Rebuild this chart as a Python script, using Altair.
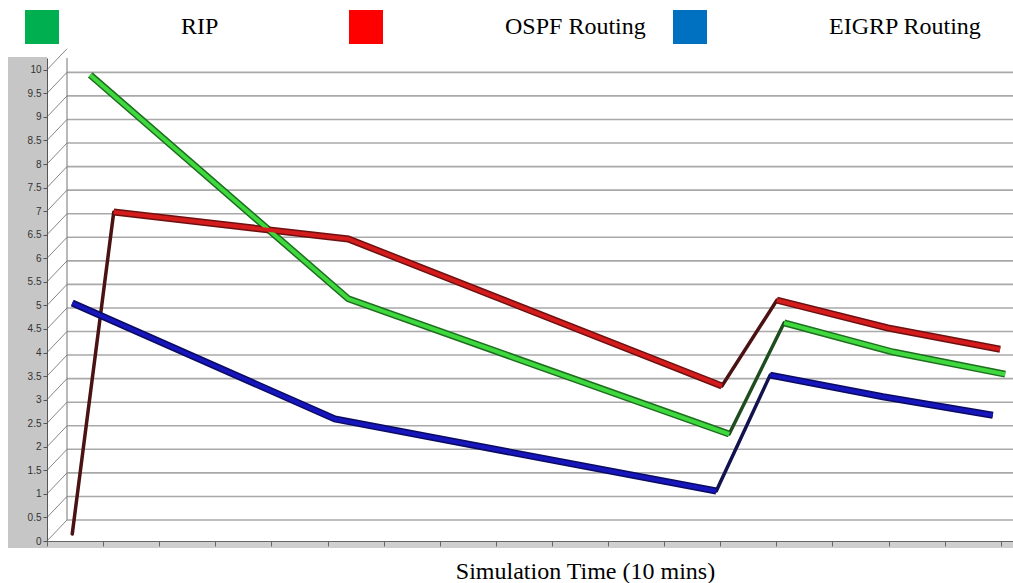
import altair as alt
import pandas as pd

# Series names (as shown in the legend)
series_names = ["RIP", "OSPF Routing", "EIGRP Routing"]

# Time positions (in axis tick steps) and values for each protocol
rip_t = [0.77, 5.37, 12.16, 13.14, 15.08, 17.08]
rip_v = [9.89, 5.14, 2.27, 4.63, 4.01, 3.54]

ospf_t = [0.45, 1.19, 5.37, 12.03, 13.01, 14.99, 16.99]
ospf_v = [0.15, 6.98, 6.41, 3.29, 5.11, 4.52, 4.07]

eigrp_t = [0.45, 5.13, 11.93, 12.89, 14.90, 16.86]
eigrp_v = [5.05, 2.59, 1.06, 3.52, 3.06, 2.67]

# Axis ticks
y_ticks = [i * 0.5 for i in range(21)]
x_ticks = list(range(18))

# Colours
legend_colors = ["#00b050", "#ff0000", "#0070c0"]
face_colors = ["#3fd83f", "#d41c1c", "#1616bc"]
edge_colors = ["#1d6e1d", "#6e1010", "#0a0a62"]
rise_colors = ["#1f4d1f", "#4a1212", "#12124e"]

W, H = 966, 483
DEPTH = 21  # vertical offset of the back wall
DEPTH_X = 20

# Split each series into runs of falling / rising segments so the
# ribbon faces and the steep edges can be styled separately.
rows = []
for name, ts, vs in [("RIP", rip_t, rip_v),
                     ("OSPF Routing", ospf_t, ospf_v),
                     ("EIGRP Routing", eigrp_t, eigrp_v)]:
    run = 0
    prev = None
    for i in range(len(ts) - 1):
        kind = "rise" if vs[i + 1] > vs[i] else "fall"
        if kind != prev:
            run += 1
            prev = kind
        for j in (i, i + 1):
            rows.append(dict(series=name, t=ts[j], v=vs[j], kind=kind,
                             run=f"{name}-{run}", idx=j))
lines = pd.DataFrame(rows).drop_duplicates(subset=["run", "idx"])
falls = lines[lines["kind"] == "fall"]
rises = lines[lines["kind"] == "rise"]

x_scale = alt.Scale(domain=[0, (1013 - 47) / 56.1], nice=False, zero=False)
y_scale = alt.Scale(domain=[0, 10.25], nice=False)

x_axis = alt.Axis(values=x_ticks, labels=False, grid=False,
                  tickSize=5, tickColor="#666", domainColor="#666",
                  title="Simulation Time (10 mins)",
                  titleFont="Liberation Serif", titleFontSize=24,
                  titleFontWeight="normal", titleColor="#000",
                  titleX=538, titleY=37, titleAlign="center",
                  titleBaseline="alphabetic", zindex=1)
y_axis = alt.Axis(values=y_ticks, format=".1~f", grid=False,
                  labelOverlap=False, labelFlush=False,
                  tickSize=4, tickColor="#555", domainColor="#555",
                  labelFont="Liberation Sans", labelFontSize=10,
                  labelColor="#333", labelPadding=2, title=None, zindex=1)

x_enc = alt.X("t:Q", scale=x_scale, axis=x_axis)
y_enc = alt.Y("v:Q", scale=y_scale, axis=y_axis)

ticks_df = pd.DataFrame({"v": y_ticks})
grid_df = pd.DataFrame({"v": y_ticks[:-1]})
one = pd.DataFrame({"k": [0]})

# Grey side panel and floor strip
side = alt.Chart(one).mark_rect(color="#c6c6c6").encode(
    x=alt.value(-39), x2=alt.value(0), y=alt.value(-1), y2=alt.value(H + 7))
floor = alt.Chart(one).mark_rect(color="#cfcfcf").encode(
    x=alt.value(0), x2=alt.value(W), y=alt.value(H), y2=alt.value(H + 7))

# Perspective lines from the front axis ticks to the back wall
slants = alt.Chart(ticks_df).mark_rule(color="#666", strokeWidth=0.8,
                                       y2Offset=-DEPTH).encode(
    x=alt.value(0), x2=alt.value(DEPTH_X),
    y=alt.Y("v:Q", scale=y_scale, axis=y_axis), y2="v:Q")

# Back-wall gridlines
grid = alt.Chart(grid_df).mark_rule(color="#a9a9a9", strokeWidth=1.6,
                                    yOffset=-DEPTH).encode(
    x=alt.value(DEPTH_X), x2=alt.value(W),
    y=alt.Y("v:Q", scale=y_scale, axis=y_axis))

# Back wall left edge
wall = alt.Chart(one).mark_rule(
    color="#8a8a8a", strokeWidth=1.2, yOffset=-DEPTH).encode(
    x=alt.value(DEPTH_X), y=alt.YDatum(0, axis=y_axis), y2=alt.datum(10.25))


def col(rng):
    return alt.Color("series:N", scale=alt.Scale(domain=series_names, range=rng),
                     legend=None)


rise_layer = alt.Chart(rises).mark_line(strokeWidth=3.5, strokeCap="round").encode(
    x=x_enc, y=y_enc, color=col(rise_colors), detail="run:N", order="idx:Q")
edge_layer = alt.Chart(falls).mark_line(strokeWidth=7, strokeCap="butt",
                                        strokeJoin="miter").encode(
    x=x_enc, y=y_enc, color=col(edge_colors), detail="run:N", order="idx:Q")
face_layer = alt.Chart(falls).mark_line(strokeWidth=4, strokeCap="butt",
                                        strokeJoin="miter").encode(
    x=x_enc, y=y_enc, color=col(face_colors), detail="run:N", order="idx:Q")

legend_layer = alt.Chart(pd.DataFrame({"series": series_names})).mark_square(
    opacity=0).encode(
    color=alt.Color("series:N",
                    scale=alt.Scale(domain=series_names, range=legend_colors),
                    legend=alt.Legend(title=None, orient="none", legendX=-22,
                                      legendY=-48, direction="horizontal",
                                      columns=3, columnPadding=15,
                                      gridAlign="all", padding=0,
                                      symbolType="square", symbolSize=1156,
                                      symbolOpacity=1, symbolStrokeWidth=0,
                                      labelOffset=122, labelLimit=400,
                                      labelFont="Liberation Serif",
                                      labelFontSize=24, labelColor="#000",
                                      labelBaseline="middle")))

chart = alt.layer(side, floor, grid, wall, slants, rise_layer, edge_layer,
                  face_layer, legend_layer).resolve_scale(
    color="independent").properties(
    width=W, height=H,
    autosize=alt.AutoSizeParams(type="none"),
    padding={"left": 47, "top": 58, "right": 0, "bottom": 42},
    background="#ffffff",
).configure_view(stroke=None, fill="#f0f0f0").configure_axisY(
    labelOverlap=False)

chart.save("out.html", embed_options={"renderer": "svg", "actions": False})
